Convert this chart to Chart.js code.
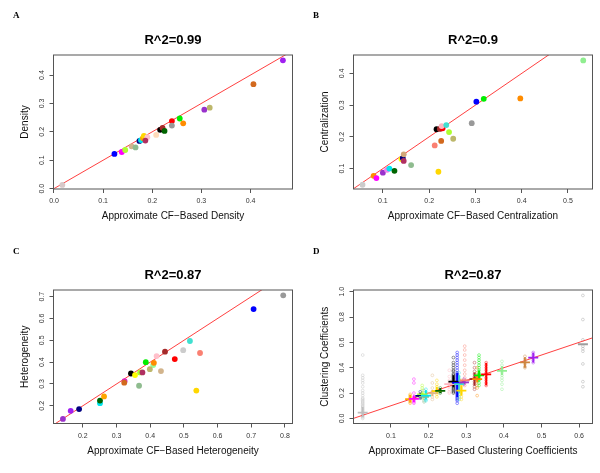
<!DOCTYPE html>
<html><head><meta charset="utf-8">
<script src="https://cdn.jsdelivr.net/npm/chart.js@4.4.0/dist/chart.umd.min.js"></script>
<style>
html,body{margin:0;padding:0;background:#fff;}
#wrap{position:relative;width:600px;height:473px;overflow:hidden;background:#fff;}
canvas{position:absolute;}
.lbl{position:absolute;font:bold 9px "Liberation Serif","DejaVu Serif",serif;color:#000;line-height:9px;}
</style></head><body>
<div id="wrap">
<canvas id="cA" width="300" height="236" style="left:0;top:0"></canvas>
<canvas id="cB" width="300" height="236" style="left:300px;top:0"></canvas>
<canvas id="cC" width="300" height="237" style="left:0;top:236px"></canvas>
<canvas id="cD" width="300" height="237" style="left:300px;top:236px"></canvas>
<div class="lbl" style="left:13px;top:11px">A</div>
<div class="lbl" style="left:313px;top:11px">B</div>
<div class="lbl" style="left:13px;top:247px">C</div>
<div class="lbl" style="left:313px;top:247px">D</div>
</div>
<script>
// ---------- Panel A: Density ----------
const aTitle = 'R^2=0.99';
const aXLabel = 'Approximate CF\u2212Based Density';
const aYLabel = 'Density';
const aXTicks = [0.0, 0.1, 0.2, 0.3, 0.4];
const aYTicks = [0.0, 0.1, 0.2, 0.3, 0.4];
const aX = [0.017,0.123,0.138,0.145,0.158,0.166,0.174,0.177,0.181,0.183,0.190,0.186,0.208,0.216,0.221,0.225,0.240,0.240,0.256,0.263,0.306,0.317,0.406,0.466];
const aY = [0.013,0.122,0.129,0.136,0.149,0.145,0.168,0.171,0.178,0.186,0.181,0.169,0.189,0.207,0.214,0.203,0.238,0.222,0.247,0.230,0.278,0.285,0.368,0.452];
const aColors = ['#d8c8c8','#0000ff','#ff00ff','#adff2f','#d2b48c','#8fbc8f','#000080','#00e5ee','#ffa500','#ffd700','#ffc0cb','#b03060','#ffdab9','#000000','#a52a2a','#006400','#ff0000','#999999','#00ee00','#ff8c00','#9932cc','#bdb76b','#d2691e','#a020f0'];

// ---------- Panel B: Centralization ----------
const bTitle = 'R^2=0.9';
const bXLabel = 'Approximate CF\u2212Based Centralization';
const bYLabel = 'Centralization';
const bXTicks = [0.1, 0.2, 0.3, 0.4, 0.5];
const bYTicks = [0.1, 0.2, 0.3, 0.4];
const bX = [0.056,0.080,0.086,0.100,0.109,0.114,0.125,0.140,0.143,0.145,0.145,0.161,0.212,0.216,0.223,0.229,0.227,0.226,0.220,0.237,0.243,0.252,0.292,0.302,0.318,0.397,0.533];
const bY = [0.049,0.077,0.070,0.087,0.096,0.100,0.093,0.130,0.133,0.145,0.124,0.111,0.173,0.224,0.225,0.227,0.234,0.187,0.090,0.237,0.215,0.194,0.243,0.311,0.320,0.321,0.441];
const bColors = ['#cccccc','#ff8c00','#ff00ff','#9932cc','#ee82ee','#00e5ee','#006400','#ffff00','#000080','#d2a679','#b03060','#8fbc8f','#fa8072','#000000','#a52a2a','#ff0000','#ffb6c1','#d2691e','#ffd700','#40e0d0','#adff2f','#bdb76b','#999999','#0000ff','#00ee00','#ff8c00','#90ee90'];

// ---------- Panel C: Heterogeneity ----------
const cTitle = 'R^2=0.87';
const cXLabel = 'Approximate CF\u2212Based Heterogeneity';
const cYLabel = 'Heterogeneity';
const cXTicks = [0.2, 0.3, 0.4, 0.5, 0.6, 0.7, 0.8];
const cYTicks = [0.2, 0.3, 0.4, 0.5, 0.6, 0.7];
const cX = [0.141,0.164,0.189,0.251,0.251,0.263,0.324,0.323,0.343,0.355,0.370,0.377,0.367,0.387,0.409,0.411,0.399,0.419,0.432,0.444,0.473,0.498,0.518,0.548,0.537,0.707,0.795];
const cY = [0.140,0.177,0.185,0.212,0.224,0.243,0.313,0.306,0.348,0.341,0.353,0.353,0.292,0.400,0.387,0.397,0.368,0.428,0.359,0.448,0.414,0.455,0.497,0.442,0.270,0.643,0.706];
const cColors = ['#9932cc','#a020f0','#000080','#00e5ee','#006400','#ffa500','#e020c0','#d2691e','#000000','#ffff00','#adff2f','#b03060','#8fbc8f','#00ee00','#98fb98','#ff8c00','#bdb76b','#ffc0cb','#d2b48c','#a52a2a','#ff0000','#cccccc','#40e0d0','#fa8072','#ffd700','#0000ff','#999999'];

// ---------- Panel D: Clustering coefficients ----------
const dTitle = 'R^2=0.87';
const dXLabel = 'Approximate CF\u2212Based Clustering Coefficients';
const dYLabel = 'Clustering Coefficients';
const dXTicks = [0.1, 0.2, 0.3, 0.4, 0.5, 0.6];
const dYTicks = [0.0, 0.2, 0.4, 0.6, 0.8, 1.0];
const dX    = [0.025,0.151,0.161,0.183,0.178,0.188,0.193,0.210,0.222,0.231,0.255,0.266,0.276,0.281,0.287,0.296,0.294,0.322,0.329,0.334,0.353,0.395,0.456,0.478,0.610];
const dMean = [0.045,0.153,0.155,0.190,0.178,0.170,0.180,0.200,0.215,0.218,0.270,0.290,0.280,0.270,0.220,0.300,0.285,0.310,0.310,0.340,0.347,0.375,0.442,0.479,0.585];
const dLow  = [0.010,0.125,0.130,0.175,0.160,0.160,0.150,0.175,0.190,0.200,0.255,0.245,0.170,0.200,0.180,0.300,0.270,0.260,0.285,0.300,0.260,0.340,0.400,0.440,0.585];
const dHigh = [0.090,0.185,0.180,0.205,0.200,0.180,0.220,0.225,0.250,0.240,0.285,0.340,0.360,0.340,0.260,0.300,0.300,0.360,0.340,0.380,0.440,0.410,0.480,0.520,0.585];
const dColors = ['#bebebe','#ffa500','#ff00ff','#adff2f','#000080','#8fbc8f','#00e5ee','#deb887','#ffd700','#006400','#ffb6c1','#000000','#0000ff','#40e0d0','#ffd700','#fa8072','#9932cc','#a52a2a','#ff8c00','#00ee00','#ff0000','#90ee90','#cd853f','#a020f0','#9e9e9e'];
const dNodes = [
  [0.50,0.34,0.32,0.30,0.28,0.25,0.22,0.20,0.18,0.16,0.15,0.14,0.13,0.12,0.11,0.10,0.09,0.08,0.07,0.06,0.05,0.04,0.03,0.02,0.01,0.00],
  [0.19,0.18,0.17,0.16,0.15,0.14,0.13,0.12],
  [0.31,0.28,0.20,0.17,0.16,0.15,0.14,0.13,0.12],
  [0.26,0.24,0.22,0.20,0.19,0.17,0.16],
  [0.21,0.19,0.18,0.17,0.16],
  [0.22,0.18,0.16,0.14,0.13],
  [0.23,0.21,0.19,0.18,0.17,0.15,0.14],
  [0.34,0.28,0.24,0.21,0.19,0.17,0.15],
  [0.30,0.27,0.25,0.23,0.21,0.19,0.17],
  [0.24,0.22,0.21,0.20],
  [0.38,0.33,0.30,0.28,0.26,0.25,0.23,0.21,0.20],
  [0.48,0.44,0.42,0.40,0.38,0.37,0.35,0.34,0.33,0.32,0.31,0.30,0.29,0.28,0.27,0.26,0.25,0.24,0.23,0.22,0.21,0.20],
  [0.52,0.50,0.48,0.46,0.44,0.42,0.40,0.38,0.36,0.35,0.34,0.33,0.32,0.31,0.30,0.29,0.28,0.27,0.26,0.25,0.24,0.23,0.22,0.21,0.20,0.19,0.18,0.17,0.16,0.15,0.14,0.12],
  [0.36,0.33,0.31,0.29,0.27,0.25,0.23,0.21,0.19,0.17,0.15],
  [0.30,0.27,0.25,0.23,0.21,0.19,0.17,0.15],
  [0.57,0.54,0.50,0.46,0.42,0.38,0.35,0.32,0.30,0.28,0.26],
  [0.31,0.29,0.28,0.27],
  [0.44,0.40,0.37,0.35,0.33,0.31,0.29,0.27,0.25,0.23],
  [0.40,0.36,0.33,0.31,0.29,0.26,0.24,0.18],
  [0.50,0.48,0.46,0.44,0.42,0.40,0.38,0.36,0.35,0.34,0.33,0.32,0.31,0.30,0.28,0.26],
  [0.44,0.42,0.40,0.38,0.36,0.34,0.32,0.30,0.28,0.26],
  [0.45,0.42,0.40,0.38,0.36,0.34,0.32,0.30,0.27,0.23],
  [0.49,0.47,0.45,0.43,0.41,0.40],
  [0.52,0.50,0.48,0.46,0.44],
  [0.97,0.78,0.62,0.57,0.55,0.53,0.43,0.29,0.25]
];
const diagonal = [0, 1.2];

// ---------- helpers ----------
const FAM = '"Liberation Sans", Arial, Helvetica, sans-serif';
function rgba(hex, a) {
  const n = parseInt(hex.slice(1), 16);
  return 'rgba(' + ((n >> 16) & 255) + ',' + ((n >> 8) & 255) + ',' + (n & 255) + ',' + a + ')';
}
const boxPlugin = {
  id: 'rbox',
  afterDatasetsDraw(chart) {
    const {ctx, chartArea: a} = chart;
    ctx.save();
    ctx.strokeStyle = '#555';
    ctx.lineWidth = 1;
    ctx.strokeRect(a.left, a.top, a.right - a.left, a.bottom - a.top);
    ctx.restore();
  }
};
function axis(isY, lim, ticks, label, row) {
  const xH = row === 0 ? 47 : 49.5;
  const xTB = row === 0 ? 14 : 16;
  return {
    type: 'linear', position: isY ? 'left' : 'bottom', min: lim[0], max: lim[1],
    afterBuildTicks: s => { s.ticks = ticks.map(v => ({value: v})); },
    afterFit: s => { if (isY) s.width = 53.5; else s.height = xH; },
    grid: {display: true, drawOnChartArea: false, drawTicks: true, tickLength: 4, color: '#555', lineWidth: 1},
    border: {display: false},
    ticks: {
      font: {family: FAM, size: 7}, color: '#333', autoSkip: false,
      padding: isY ? 2.5 : 4,
      minRotation: isY ? 90 : 0, maxRotation: isY ? 90 : 0,
      crossAlign: isY ? 'center' : 'near',
      callback: v => Number(v).toFixed(1)
    },
    title: {
      display: true, text: label, color: '#111', font: {family: FAM, size: 10},
      padding: isY ? {top: 19.5, bottom: 0} : {top: 0, bottom: xTB}
    }
  };
}
function baseOptions(title, row, xl, yl, xt, yt, xlab, ylab) {
  return {
    responsive: false, animation: false, devicePixelRatio: 1,
    layout: {padding: {left: 0, right: 7.5, top: 0, bottom: 0}},
    plugins: {
      legend: {display: false}, tooltip: {enabled: false},
      title: {
        display: true, text: title, fullSize: false, color: '#000',
        font: {family: FAM, size: 13, weight: 'bold'},
        padding: {top: row === 0 ? 32.5 : 31.5, bottom: 6.9}
      }
    },
    scales: {x: axis(false, xl, xt, xlab, row), y: axis(true, yl, yt, ylab, row)}
  };
}
function diagLine() {
  return {type: 'line', data: diagonal.map(v => ({x: v, y: v})), borderColor: 'rgba(255,30,30,0.85)',
          borderWidth: 1, pointRadius: 0, clip: 0, order: 5};
}
function simplePanel(id, xs, ys, cols, title, row, xl, yl, xt, yt, xlab, ylab) {
  new Chart(document.getElementById(id), {
    type: 'scatter',
    data: {datasets: [
      diagLine(),
      {type: 'scatter', data: xs.map((x, i) => ({x: x, y: ys[i]})), pointRadius: 2.9,
       pointBackgroundColor: cols, pointBorderWidth: 0, pointBorderColor: cols, order: 1, clip: 0}
    ]},
    options: baseOptions(title, row, xl, yl, xt, yt, xlab, ylab),
    plugins: [boxPlugin]
  });
}

simplePanel('cA', aX, aY, aColors, aTitle, 0, [-0.001, 0.4855], [-0.0014, 0.4706], aXTicks, aYTicks, aXLabel, aYLabel);
simplePanel('cB', bX, bY, bColors, bTitle, 0, [0.0365, 0.553], [0.0356, 0.458], bXTicks, bYTicks, bXLabel, bYLabel);
simplePanel('cC', cX, cY, cColors, cTitle, 1, [0.113, 0.8225], [0.119, 0.7306], cXTicks, cYTicks, cXLabel, cYLabel);

// Panel D
(function () {
  const nodePts = [], nodeCols = [];
  dNodes.forEach((ys, i) => ys.forEach(y => { nodePts.push({x: dX[i], y: y}); nodeCols.push(rgba(dColors[i], 0.6)); }));
  const ds = [
    {type: 'scatter', data: nodePts, pointRadius: 1.4, pointStyle: 'circle', pointBackgroundColor: 'rgba(0,0,0,0)',
     pointBorderColor: nodeCols, pointBorderWidth: 0.7, order: 9, clip: 0},
    diagLine()
  ];
  dX.forEach((x, i) => {
    ds.push({type: 'line', data: [{x: x, y: dLow[i]}, {x: x, y: dHigh[i]}], borderColor: dColors[i],
             borderWidth: 1.8, pointRadius: 0, order: 1, clip: 0});
  });
  ds.push({type: 'scatter', data: dX.map((x, i) => ({x: x, y: dMean[i]})), pointStyle: 'line', pointRadius: 5,
           pointBorderWidth: 1.8, pointBorderColor: dColors, pointBackgroundColor: dColors, order: 0, clip: 0});
  new Chart(document.getElementById('cD'), {
    type: 'scatter',
    data: {datasets: ds},
    options: baseOptions(dTitle, 1, [0.0005, 0.6355], [-0.04, 1.013], dXTicks, dYTicks, dXLabel, dYLabel),
    plugins: [boxPlugin]
  });
})();
</script>
</body></html>
